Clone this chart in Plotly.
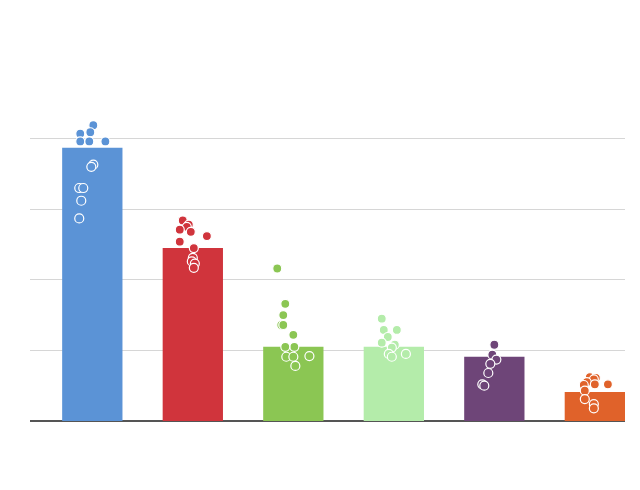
import plotly.graph_objects as go

cats = [0, 1, 2, 3, 4, 5]
colors = ["#5b93d6", "#d0343c", "#8bc653", "#b4ecaa", "#6e4578", "#e0622a"]
bar_vals = [3.87, 2.45, 1.05, 1.05, 0.91, 0.41]

pts = [
    [4.19, 4.09, 4.07, 3.96, 3.96, 3.96, 3.63, 3.60, 3.30, 3.30, 3.12, 2.87],
    [2.84, 2.78, 2.75, 2.71, 2.68, 2.62, 2.54, 2.45, 2.31, 2.26, 2.23, 2.17],
    [2.16, 1.66, 1.50, 1.36, 1.36, 1.22, 1.05, 1.05, 0.92, 0.91, 0.91, 0.78],
    [1.45, 1.29, 1.29, 1.19, 1.11, 1.08, 1.04, 0.95, 0.95, 0.91],
    [1.08, 0.94, 0.87, 0.81, 0.68, 0.52, 0.50],
    [0.62, 0.61, 0.59, 0.55, 0.52, 0.52, 0.51, 0.43, 0.31, 0.24, 0.18],
]
jit = [
    [0.01, -0.02, -0.12, -0.12, -0.03, 0.13, 0.01, -0.01, -0.13, -0.09, -0.11, -0.13],
    [-0.10, -0.04, -0.06, -0.13, -0.02, 0.14, -0.13, 0.01, 0.00, -0.01, 0.02, 0.01],
    [-0.16, -0.08, -0.10, -0.12, -0.10, 0.00, 0.01, -0.08, 0.16, -0.07, 0.00, 0.02],
    [-0.12, -0.10, 0.03, -0.06, -0.12, 0.01, -0.02, -0.05, 0.12, -0.02],
    [0.00, -0.02, 0.02, -0.04, -0.06, -0.12, -0.10],
    [-0.05, 0.01, -0.01, -0.08, 0.00, 0.13, -0.11, -0.10, -0.10, -0.01, -0.01],
]

fig = go.Figure()
fig.add_trace(go.Bar(x=cats, y=bar_vals, width=0.6, marker_color=colors,
                     marker_line_width=0, showlegend=False))
for i in cats:
    fig.add_trace(go.Scatter(
        x=[i + j for j in jit[i]], y=pts[i], mode="markers", showlegend=False,
        marker=dict(size=9, color=colors[i], line=dict(color="white", width=1.2))))

fig.update_layout(
    width=640, height=490, plot_bgcolor="white", paper_bgcolor="white",
    margin=dict(l=22, r=23, t=60, b=77), bargap=0.4,
    xaxis=dict(range=[-0.62, 5.3], showticklabels=False, showgrid=False,
               zeroline=False, showline=False, ticks=""),
    yaxis=dict(range=[0, 5], dtick=1, showticklabels=False, gridcolor="#d6d6d6",
               zeroline=True, zerolinecolor="#555", zerolinewidth=2, ticks=""),
)
fig.write_html("out.html")
